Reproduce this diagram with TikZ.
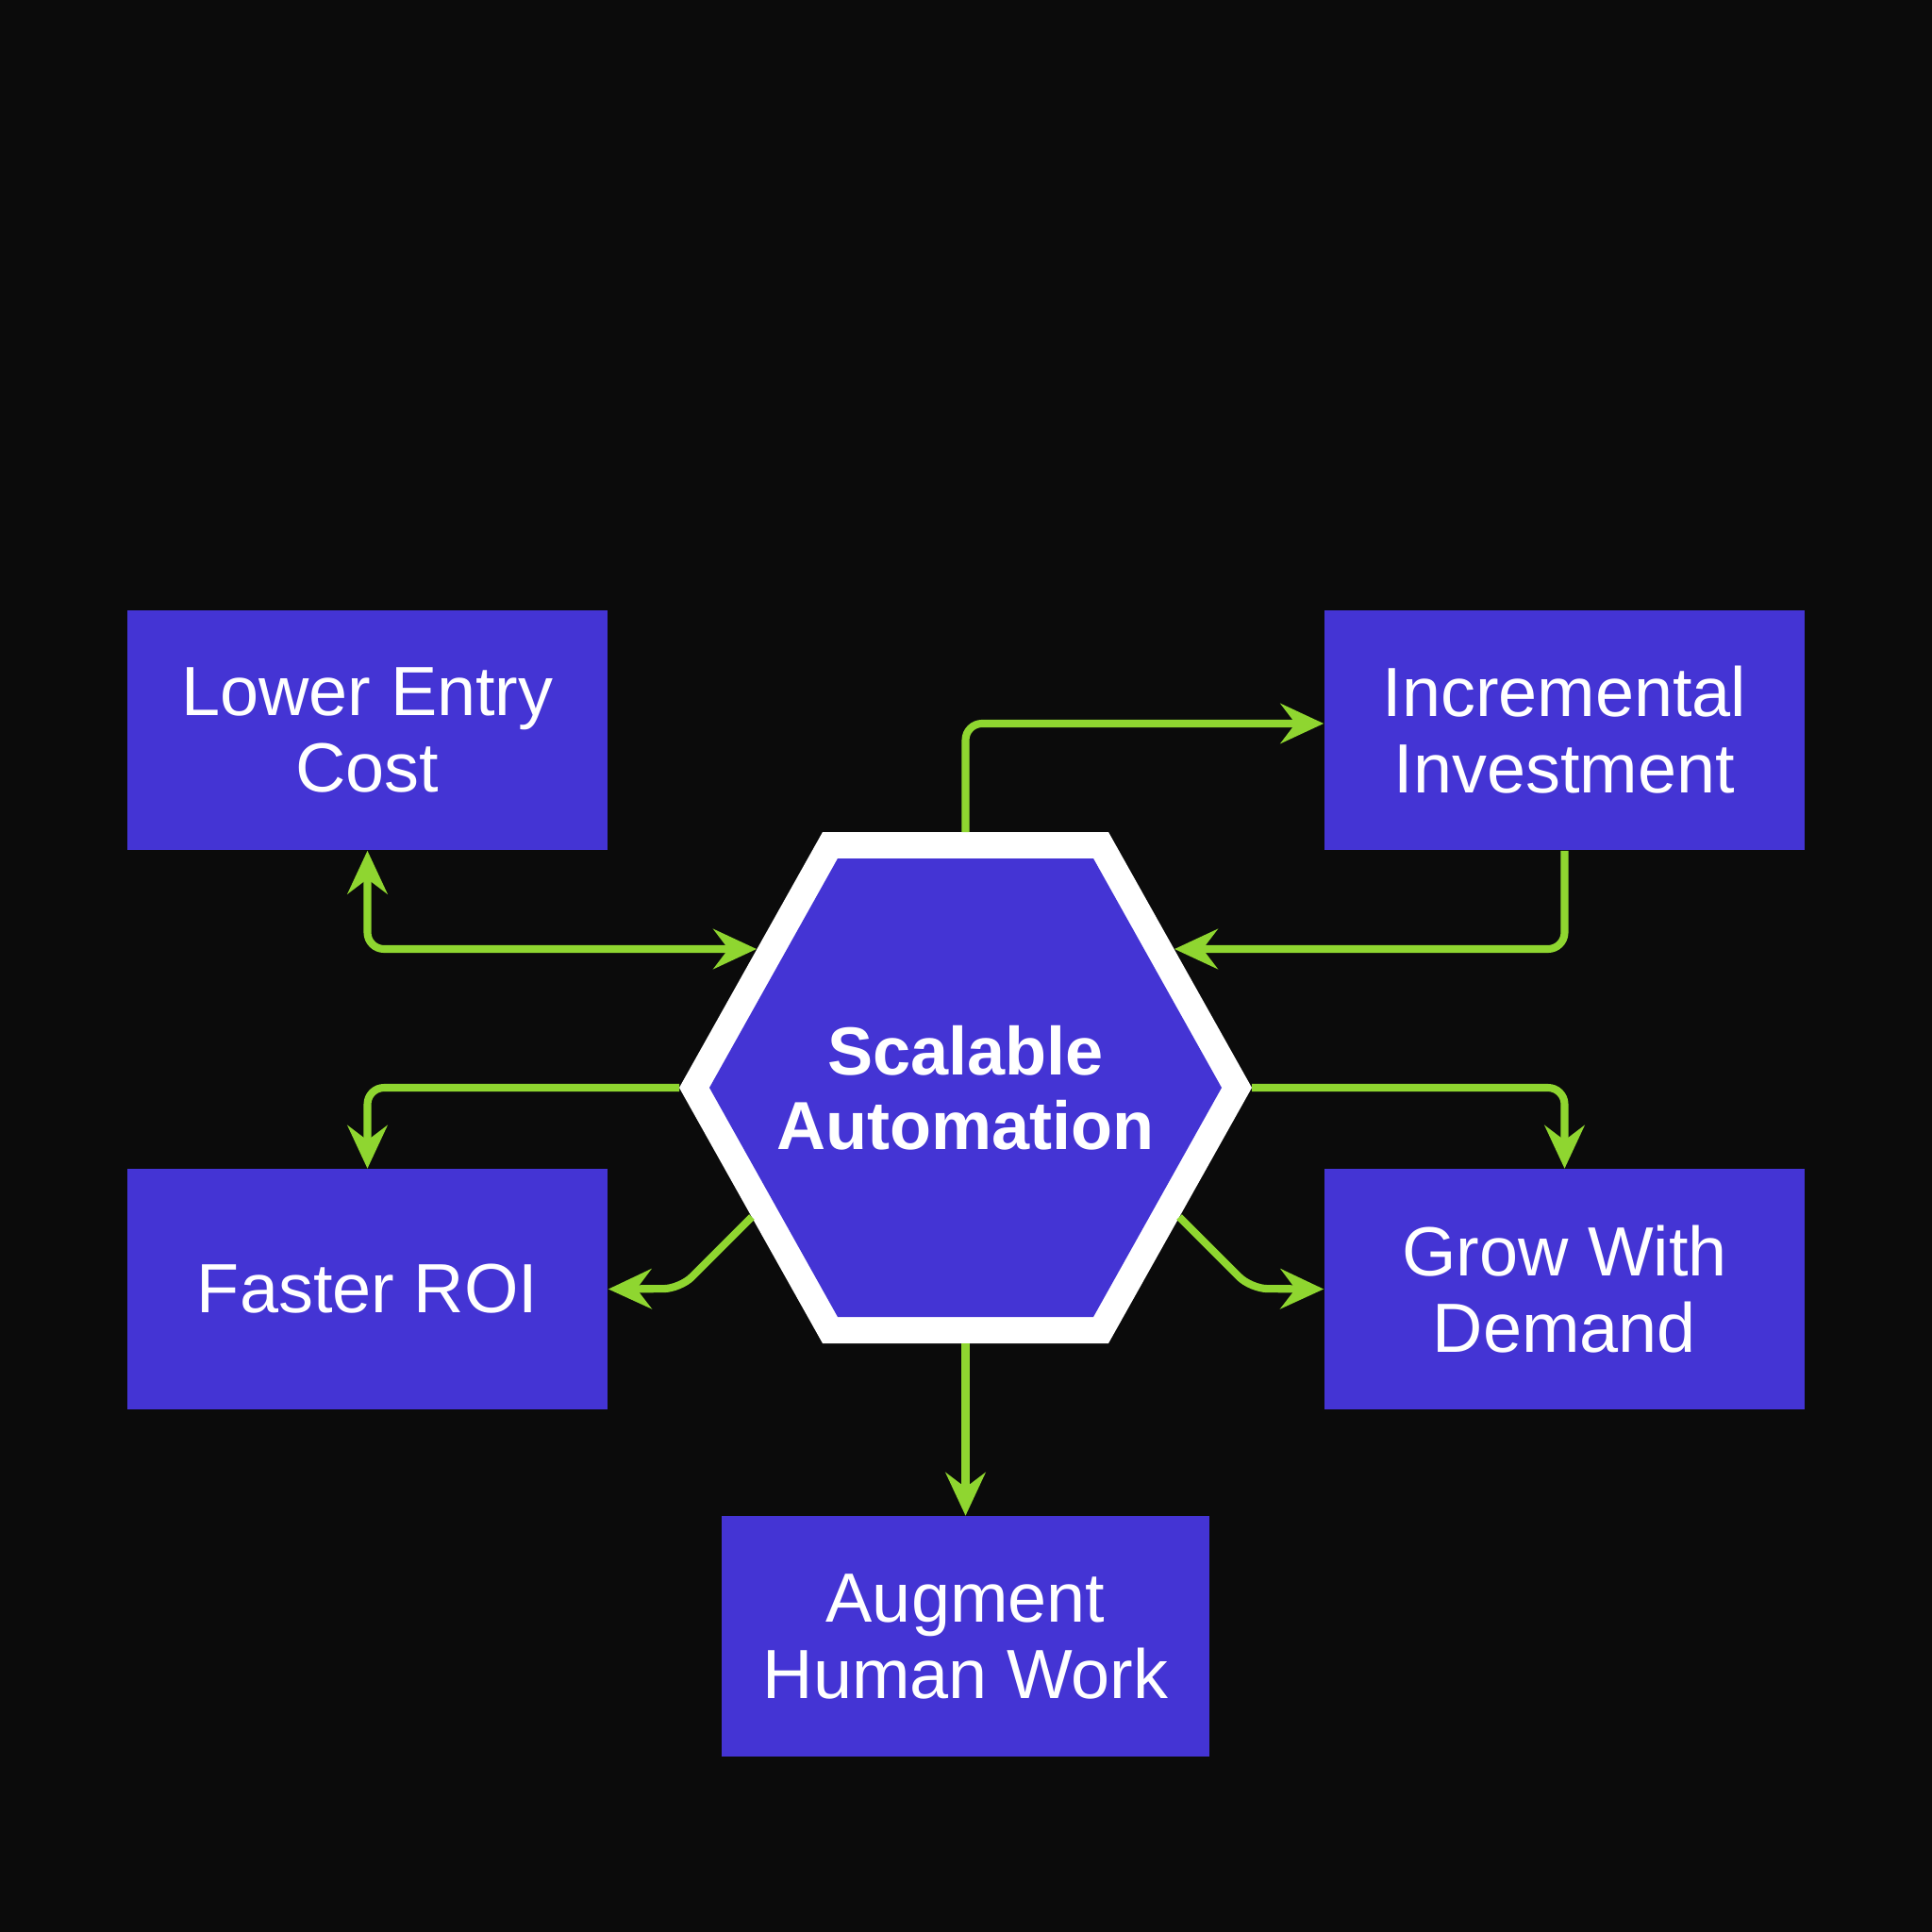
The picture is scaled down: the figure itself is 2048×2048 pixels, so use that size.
\documentclass[tikz,border=0pt]{standalone}
\usepackage{fontspec}
\setmainfont{Liberation Sans}
\usetikzlibrary{arrows.meta,positioning,calc}
\definecolor{bgdark}{HTML}{0B0B0B}
\definecolor{boxblue}{HTML}{4434D4}
\definecolor{linkgreen}{HTML}{8FD630}

\begin{document}
\begin{tikzpicture}[
  x=0.01cm, y=-0.01cm,
  >={Stealth[length=13pt, width=12pt, inset=4.5pt]},
  every node/.style={font=\fontsize{21}{23}\selectfont, text=white},
  benefit/.style={fill=boxblue, minimum width=5.09cm,
              minimum height=2.54cm, align=center, inner sep=0pt},
  link/.style={draw=linkgreen, line width=2.3pt, rounded corners=5pt},
]
  \fill[bgdark] (0,0) rectangle (2048,2048);
  \useasboundingbox (0,0) rectangle (2048,2048);

  % central hexagon
  \fill[white] (872,882) -- (1175,882) -- (1327,1153) -- (1175,1424)
    -- (872,1424) -- (720,1153) -- cycle;
  \fill[boxblue] (888,910) -- (1159,910) -- (1295,1153) -- (1159,1396)
    -- (888,1396) -- (752,1153) -- cycle;
  \node[font=\bfseries\fontsize{20.5}{22.5}\selectfont, align=center]
    (hub) at (1023.5,1153) {Scalable\\Automation};

  \coordinate (hexT) at (1023.5,882);
  \coordinate (hexB) at (1023.5,1424);
  \coordinate (hexL) at (720,1153);
  \coordinate (hexR) at (1327,1153);
  \coordinate (hexUL) at (802,1006);
  \coordinate (hexUR) at (1245,1006);
  \coordinate (hexLL) at (797,1290);
  \coordinate (hexLR) at (1250,1290);

  \node[benefit] (lec) at (389.5,774) {Lower Entry\\Cost};
  \node[benefit] (inv) at (1658.5,774) {Incremental\\Investment};
  \node[benefit] (roi) at (389.5,1366.5) {Faster ROI};
  \node[benefit] (grow) at (1658.5,1366.5) {Grow With\\Demand};
  \node[benefit, minimum width=5.16cm] (aug) at (1023.5,1734.5)
    {Augment\\Human Work};

  \draw[link, ->] (hexT) |- ([yshift=2pt]inv.west);
  \draw[link, ->] (inv.south) |- (hexUR);
  \draw[link, <->] (lec.south) |- (hexUL);
  \draw[link, ->] (hexL) -| (roi.north);
  \draw[link, ->] (hexR) -| (grow.north);
  \draw[link, ->] (hexLL) -- ++(-76,76) -- (roi.east);
  \draw[link, ->] (hexLR) -- ++(76,76) -- (grow.west);
  \draw[link, ->] (hexB) -- (aug.north);
\end{tikzpicture}
\end{document}
